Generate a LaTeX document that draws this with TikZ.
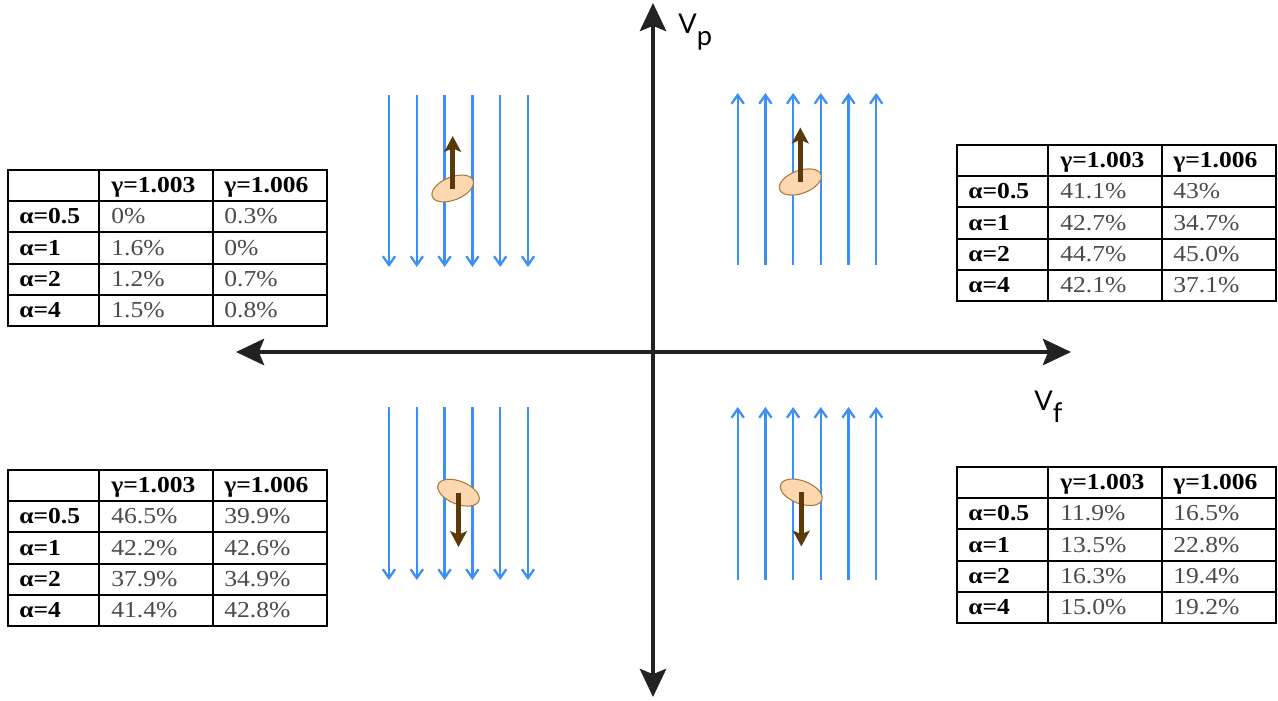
\documentclass[tikz,border=0pt]{standalone}
\usepackage{fontspec}
\usetikzlibrary{arrows.meta,shapes.geometric}
\newfontfamily\tabfont[FakeStretch=1.12]{Liberation Serif}
\newfontfamily\axfont{Lato}
\definecolor{AxisGray}{HTML}{222222}
\definecolor{FlowBlue}{HTML}{3D8EF5}
\definecolor{CellFill}{HTML}{FDD7AF}
\definecolor{CellLine}{HTML}{A57A3C}
\definecolor{SpinBrown}{HTML}{5A3A08}
\definecolor{ValGray}{HTML}{4A4A4A}

\tikzset{
  axis/.style={AxisGray, line width=2.1pt,
    {Stealth[length=16pt,width=15pt,inset=3pt]}-{Stealth[length=16pt,width=15pt,inset=3pt]}},
  axlabel/.style={inner sep=0pt, font=\axfont\fontsize{15.5}{17}\selectfont},
  flow/.style={FlowBlue, line width=1.3pt, -{Straight Barb[length=5pt,width=7pt]}},
  cell/.style={ellipse, draw=CellLine, fill=CellFill, line width=0.6pt, inner sep=0pt,
    minimum width=25pt, minimum height=13pt},
  spin/.style={SpinBrown, line width=2.6pt, -{Stealth[length=9pt,width=9.5pt,inset=2pt]}},
  grid/.style={black, line width=1.1pt},
  head/.style={anchor=west, inner sep=0pt, text height=0.7em, text depth=0.2em, yshift=-1.5pt,
    font=\tabfont\bfseries\fontsize{13}{15}\selectfont},
  val/.style={head, text=ValGray, font=\tabfont\fontsize{13}{15}\selectfont}
}

\newcommand{\ratetable}[4]{%
  \begin{scope}[shift={(#1,#2)}]
    \draw[grid] (0,0) rectangle (319,156);
    \foreach \yy in {31.2,62.4,93.6,124.8} \draw[grid] (0,\yy) -- (319,\yy);
    \foreach \xx in {91,205} \draw[grid] (\xx,0) -- (\xx,156);
    \node[head] (#3-h1) at (103,15.6) {γ=1.003};
    \node[head] (#3-h2) at (216,15.6) {γ=1.006};
    \foreach \A/\B/\C [count=\r] in {#4} {
      \node[head] (#3-a\r) at (11,31.2*\r+15.6) {α=\A};
      \node[val] (#3-b\r) at (103,31.2*\r+15.6) {\B};
      \node[val] (#3-c\r) at (216,31.2*\r+15.6) {\C};
    }
  \end{scope}}

\begin{document}
\begin{tikzpicture}[x=0.02cm, y=-0.02cm]
  \useasboundingbox (0,0) rectangle (1278,700);

  \coordinate (vb) at (653,697);
  \coordinate (vt) at (653,3);
  \coordinate (hl) at (236,352);
  \coordinate (hr) at (1071,352);
  \draw[axis] (vb) -- (vt);
  \draw[axis] (hl) -- (hr);
  \node[axlabel, anchor=base west] (vp) at (678,33) {V\raisebox{-7pt}{p}};
  \node[axlabel, anchor=base west] (vf) at (1034,410) {V\raisebox{-7pt}{f}};

  \foreach \X [count=\Z] in {389,416.8,444.6,472.4,500.2,528} {
    \coordinate (tl-s\Z) at (\X,95);  \coordinate (tl-e\Z) at (\X,267);
    \coordinate (bl-s\Z) at (\X,407); \coordinate (bl-e\Z) at (\X,580);
    \draw[flow] (tl-s\Z) -- (tl-e\Z);
    \draw[flow] (bl-s\Z) -- (bl-e\Z);
  }
  \foreach \X [count=\Z] in {737.7,765.4,793.1,820.8,848.5,876.2} {
    \coordinate (tr-s\Z) at (\X,265); \coordinate (tr-e\Z) at (\X,93);
    \coordinate (br-s\Z) at (\X,580); \coordinate (br-e\Z) at (\X,407);
    \draw[flow] (tr-s\Z) -- (tr-e\Z);
    \draw[flow] (br-s\Z) -- (br-e\Z);
  }

  \node[cell, rotate=22] (tl-cell) at (452.7,188.5) {};
  \node[cell, rotate=20] (tr-cell) at (800.3,182) {};
  \node[cell, rotate=-22] (bl-cell) at (458.5,492.7) {};
  \node[cell, rotate=-21] (br-cell) at (801.3,492.3) {};
  \coordinate (tl-tip) at (452.7,136);
  \coordinate (tr-tip) at (800.3,127.5);
  \coordinate (bl-tip) at (458.5,547);
  \coordinate (br-tip) at (801.3,546.5);
  \draw[spin] (tl-cell.center) -- (tl-tip);
  \draw[spin] (tr-cell.center) -- (tr-tip);
  \draw[spin] (bl-cell.center) -- (bl-tip);
  \draw[spin] (br-cell.center) -- (br-tip);

  \ratetable{8}{170}{tl}{0.5/0\%/0.3\%, 1/1.6\%/0\%, 2/1.2\%/0.7\%, 4/1.5\%/0.8\%}
  \ratetable{957}{145}{tr}{0.5/41.1\%/43\%, 1/42.7\%/34.7\%, 2/44.7\%/45.0\%, 4/42.1\%/37.1\%}
  \ratetable{8}{470}{bl}{0.5/46.5\%/39.9\%, 1/42.2\%/42.6\%, 2/37.9\%/34.9\%, 4/41.4\%/42.8\%}
  \ratetable{957}{467}{br}{0.5/11.9\%/16.5\%, 1/13.5\%/22.8\%, 2/16.3\%/19.4\%, 4/15.0\%/19.2\%}
\end{tikzpicture}
\end{document}
